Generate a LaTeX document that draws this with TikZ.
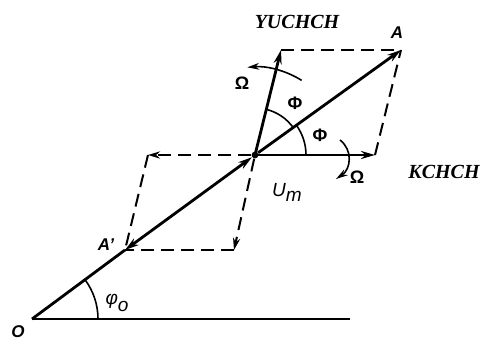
\documentclass[tikz,border=0pt]{standalone}
\usepackage{fontspec}
\setmainfont{Liberation Serif}
\setsansfont{Liberation Sans}
\usetikzlibrary{arrows.meta}
\usetikzlibrary{positioning}

\begin{document}
\begin{tikzpicture}[
  x=0.5pt, y=0.5pt,
  % vectors and projections
  vecArrow/.style={line width=1.4pt, -{Stealth[length=7pt,width=4pt]}},
  vecLine/.style={line width=1.4pt},
  projLine/.style={line width=1pt, dash pattern=on 6.5pt off 3.5pt},
  projArrow/.style={projLine, -{Stealth[length=6pt,width=3.6pt]}},
  angleArc/.style={line width=0.8pt},
  % labels
  axisLabel/.style={font=\fontsize{10}{12}\selectfont\bfseries\itshape},
  pointLabel/.style={font=\fontsize{8.5}{10}\selectfont\sffamily\bfseries\itshape},
  greekLabel/.style={font=\fontsize{9}{10}\selectfont\sffamily\bfseries},
]
\useasboundingbox (0,0) rectangle (480,349);

% --- points ---
\coordinate (O) at (32,30);
\coordinate (baseEnd) at (350,30);
\node[circle, fill=black, inner sep=0pt, minimum size=3.4pt] (Um) at (255,194) {};
\coordinate (A) at (401,299);
\coordinate (Ap) at (125,99);
\coordinate (yuchTip) at (281,299);
\coordinate (kchTip) at (375,194);
\coordinate (leftTip) at (148,194);
\coordinate (downTip) at (234,99);

% --- main line O A' Um A ---
\draw[vecLine] (O) -- (baseEnd);
\draw[vecLine] (O) -- (Ap);
\draw[vecLine, {Stealth[length=7pt,width=4pt]}-{Stealth[length=7pt,width=4pt]}] (Ap) -- (Um);
\draw[vecArrow] (Um) -- (A);

% --- rotating axes ---
\draw[vecArrow] (Um.center) -- (yuchTip);
\draw[vecArrow] (Um.center) -- (kchTip);

% --- projections ---
\draw[projLine] (yuchTip) -- (A);
\draw[projLine] (kchTip) -- (A);
\draw[projArrow] (Um) -- (leftTip);
\draw[projArrow] (Um) -- (downTip);
\draw[projLine] (leftTip) -- (Ap);
\draw[projLine] (downTip) -- (Ap);

% --- angles ---
\draw[angleArc] (O) ++(0:66) arc[start angle=0, end angle=36.3, radius=66];
\draw[angleArc] (Um.center) ++(35.7:47) arc[start angle=35.7, end angle=76, radius=47];
\draw[angleArc] (Um.center) ++(0:51) arc[start angle=0, end angle=35.7, radius=51];

% --- rotation arrows ---
\draw[angleArc, -{Stealth[length=6pt,width=3.4pt]}] (Um.center) ++(58:88) arc[start angle=58, end angle=95, radius=88];
\coordinate (omStart) at (340,209);
\coordinate (omEnd) at (336,170);
\draw[angleArc, -{Stealth[length=6pt,width=3.4pt]}] (omStart) .. controls (353,199) and (351,180) .. (omEnd);

% --- labels ---
\node[axisLabel] (yuchLbl) at (297,327) {YUCHCH};
\node[axisLabel] (kchLbl) at (444,177) {KCHCH};
\node[pointLabel] (aLbl) at (397,316) {A};
\node[pointLabel] (apLbl) at (106,104) {A'};
\node[greekLabel] (phiUp) at (295,246) {Φ};
\node[greekLabel] (phiLow) at (320,214) {Φ};
\node[pointLabel, font=\fontsize{9.5}{10}\selectfont\sffamily\itshape] (umLbl) at (287,157) {U\raisebox{-0.5ex}{m}};
\node[pointLabel, font=\fontsize{9.5}{10}\selectfont\sffamily\itshape] (phiZero) at (117,46) {φ\raisebox{-0.7ex}{o}};
\node[pointLabel] (oLbl) at (18,17) {O};
\node[greekLabel] (omUp) at (242,266) {Ω};
\node[greekLabel] (omLow) at (357,172) {Ω};

\end{tikzpicture}
\end{document}
